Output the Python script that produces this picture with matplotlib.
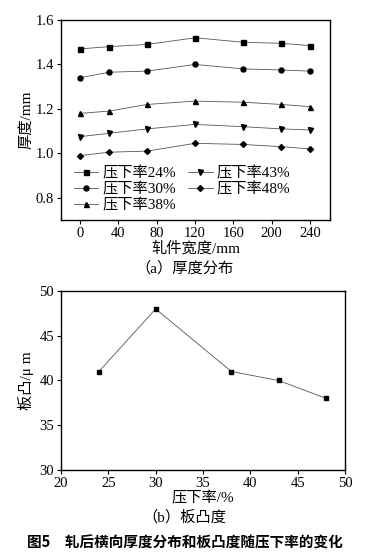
import numpy as np
import matplotlib.pyplot as plt

plt.rcParams['font.family'] = ['Liberation Serif', 'Noto Sans CJK SC']
plt.rcParams['font.size'] = 10

# 数据: 厚度分布
width = [0, 30, 70, 120, 170, 210, 240]
h24 = [1.47, 1.48, 1.49, 1.52, 1.50, 1.495, 1.485]
h30 = [1.34, 1.365, 1.37, 1.40, 1.38, 1.375, 1.37]
h38 = [1.18, 1.19, 1.22, 1.235, 1.23, 1.22, 1.21]
h43 = [1.075, 1.09, 1.11, 1.13, 1.12, 1.11, 1.105]
h48 = [0.99, 1.005, 1.01, 1.045, 1.04, 1.03, 1.02]

# 数据: 板凸度
rate = [24, 30, 38, 43, 48]
crown = [41, 48, 41, 40, 38]

fig = plt.figure(figsize=(3.69, 5.57), dpi=100)
ax1 = fig.add_axes([61/369, 1-220/557, 269/369, 200/557])
ax2 = fig.add_axes([61/369, 1-470/557, 284/369, 179/557])

series = [(h24, 's', '压下率24%'), (h30, 'o', '压下率30%'), (h38, '^', '压下率38%'),
          (h43, 'v', '压下率43%'), (h48, 'D', '压下率48%')]
for vals, m, lab in series:
    ms = 3.0 if m == 'D' else 3.6
    ax1.plot(width, vals, color='#555555', lw=0.6, marker=m, ms=ms,
             mfc='black', mec='black', label=lab)

ax1.set_xlim(-20, 261)
ax1.set_ylim(0.7, 1.6)
ax1.set_xticks([0, 40, 80, 120, 160, 200, 240])
ax1.set_yticks([0.8, 1.0, 1.2, 1.4, 1.6])
ax1.set_yticklabels(['0.8', '1.0', '1.2', '1.4', '1.6'])
ax1.set_ylabel('厚度/mm', labelpad=2, fontsize=11)
ax1.set_xlabel('轧件宽度/mm', labelpad=1, fontsize=11)
ax1.legend(ncol=2, frameon=False, loc='lower left', bbox_to_anchor=(0.02, 0.0),
           handlelength=1.6, handletextpad=0.25, columnspacing=0.8,
           labelspacing=0.12, fontsize=11, borderaxespad=0.1)

ax2.plot(rate, crown, color='#555555', lw=0.6, marker='s', ms=3.3,
         mfc='black', mec='black')
ax2.set_xlim(20, 50)
ax2.set_ylim(30, 50)
ax2.set_xticks([20, 25, 30, 35, 40, 45, 50])
ax2.set_yticks([30, 35, 40, 45, 50])
ax2.set_ylabel('板凸/μ m', labelpad=4, fontsize=11)
ax2.set_xlabel('压下率/%', labelpad=1, fontsize=11)

for ax in (ax1, ax2):
    ax.tick_params(direction='out', length=3, width=0.8, labelsize=10.5, pad=2)
    for s in ax.spines.values():
        s.set_linewidth(1.0)

fig.text(0.5, 1-268/557, '（a）厚度分布', ha='center', va='center', fontsize=11)
fig.text(0.5, 1-517/557, '（b）板凸度', ha='center', va='center', fontsize=11)
fig.text(0.5, 1-543/557, '图5　轧后横向厚度分布和板凸度随压下率的变化', ha='center',
         va='center', fontsize=10.5, fontweight='bold',
         family=['Noto Sans CJK SC', 'DejaVu Sans'])

fig.savefig('out.png', dpi=100)
plt.close()
